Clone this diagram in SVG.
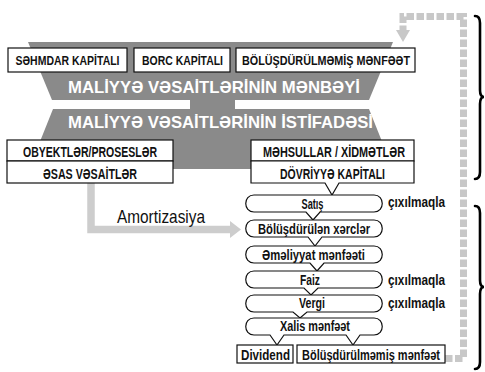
<svg xmlns="http://www.w3.org/2000/svg" width="485" height="372" viewBox="0 0 485 372">
<defs>
<style>
.bx{fill:#fff;stroke:#111;stroke-width:1.2}
.band{fill:#8a8a8a}
.t{font-family:"Liberation Sans","DejaVu Sans",Arial,sans-serif;font-weight:bold;fill:#111;text-anchor:middle}
.cap{font-size:14.5px}
.top{font-size:13.5px}
.pl{font-size:14.5px}
.ttl{font-size:17px;fill:#fff}
.lab{font-family:"Liberation Sans","DejaVu Sans",Arial,sans-serif;fill:#111}
.fb{fill:none;stroke:#c8c8c8;stroke-width:7;stroke-dasharray:7.5 2.5}
.am{fill:none;stroke:#cdcdcd;stroke-width:7.5}
.br{fill:none;stroke:#000;stroke-width:2.6;stroke-linecap:round}
</style>
</defs>
<rect width="485" height="372" fill="#fff"/>

<g id="bands">
<polygon class="band" points="28,42 393,42 369,100 52,100"/>
<rect class="band" x="190" y="99" width="45" height="11"/>
<polygon class="band" points="53,109 369,109 393,169 29,169"/>
<text class="t ttl" x="214" y="92.5" textLength="292" lengthAdjust="spacingAndGlyphs">MALİYYƏ VƏSAİTLƏRİNİN MƏNBƏYİ</text>
<text class="t ttl" x="220.5" y="127.5" textLength="305" lengthAdjust="spacingAndGlyphs">MALİYYƏ VƏSAİTLƏRİNİN İSTİFADƏSİ</text>
</g>

<g id="connectors">
<path class="fb" d="M445,358.5 H463.5 V16.5 H403 V31"/>
<polygon points="396,30 410,30 403,42" fill="#c8c8c8"/>
<path class="am" d="M91,183 V229.5 H231"/>
<polygon points="230,221 241,229.5 230,238" fill="#cdcdcd"/>
</g>

<g id="n-sehmdar">
<rect class="bx" x="8" y="48" width="119" height="24"/>
<text class="t top" x="67.5" y="65" textLength="104" lengthAdjust="spacingAndGlyphs">SƏHMDAR KAPİTALI</text>
</g>
<g id="n-borc">
<rect class="bx" x="134" y="48" width="96" height="24"/>
<text class="t top" x="182.5" y="65" textLength="81" lengthAdjust="spacingAndGlyphs">BORC KAPİTALI</text>
</g>
<g id="n-bolusdurulmemis-top">
<rect class="bx" x="236" y="48" width="179" height="24"/>
<text class="t top" x="326" y="65" textLength="168" lengthAdjust="spacingAndGlyphs">BÖLÜŞDÜRÜLMƏMİŞ MƏNFƏƏT</text>
</g>

<g id="n-obyektler">
<rect class="bx" x="7" y="140" width="166" height="21"/>
<text class="t cap" x="90" y="156.5" textLength="134" lengthAdjust="spacingAndGlyphs">OBYEKTLƏR/PROSESLƏR</text>
</g>
<g id="n-esas">
<rect class="bx" x="7" y="161" width="166" height="22"/>
<text class="t cap" x="90" y="178.5" textLength="94" lengthAdjust="spacingAndGlyphs">ƏSAS VƏSAİTLƏR</text>
</g>
<g id="n-mehsullar">
<rect class="bx" x="251" y="140" width="163" height="21"/>
<text class="t cap" x="334" y="156.5" textLength="142" lengthAdjust="spacingAndGlyphs">MƏHSULLAR / XİDMƏTLƏR</text>
</g>
<g id="n-dovriyye">
<path class="bx" d="M251,161 H414 V183 H339 L332,195 L325,183 H251 Z"/>
<text class="t cap" x="332.5" y="178.5" textLength="105" lengthAdjust="spacingAndGlyphs">DÖVRİYYƏ KAPİTALI</text>
</g>

<g id="n-satis">
<path class="bx" d="M254,195 H374 C385,195 385,212 374,212 H320 L313,220 L306,212 H254 C243,212 243,195 254,195 Z"/>
<text class="t pl" x="312.5" y="208.5" textLength="22" lengthAdjust="spacingAndGlyphs">Satış</text>
</g>
<g id="n-bolusdurulen">
<path class="bx" d="M254,220 H374 C385,220 385,237 374,237 H322 L315,246 L308,237 H254 C243,237 243,220 254,220 Z"/>
<text class="t pl" x="314" y="233.5" textLength="112" lengthAdjust="spacingAndGlyphs">Bölüşdürülən xərclər</text>
</g>
<g id="n-emeliyyat">
<path class="bx" d="M254,246 H374 C385,246 385,263 374,263 H324 L317,271 L310,263 H254 C243,263 243,246 254,246 Z"/>
<text class="t pl" x="313.5" y="259.5" textLength="103" lengthAdjust="spacingAndGlyphs">Əməliyyat mənfəəti</text>
</g>
<g id="n-faiz">
<path class="bx" d="M254,271 H374 C385,271 385,288 374,288 H318 L311,295 L304,288 H254 C243,288 243,271 254,271 Z"/>
<text class="t pl" x="310" y="285" textLength="20" lengthAdjust="spacingAndGlyphs">Faiz</text>
</g>
<g id="n-vergi">
<path class="bx" d="M254,295 H374 C385,295 385,312 374,312 H307 L300,318 L293,312 H254 C243,312 243,295 254,295 Z"/>
<text class="t pl" x="312" y="308" textLength="26" lengthAdjust="spacingAndGlyphs">Vergi</text>
</g>
<g id="n-xalis">
<path class="bx" d="M254,318 H374 C385,318 385,335 374,335 H360 L353,345 L346,335 H284 L277,345 L270,335 H254 C243,335 243,318 254,318 Z"/>
<text class="t pl" x="315" y="331" textLength="70" lengthAdjust="spacingAndGlyphs">Xalis mənfəət</text>
</g>
<g id="n-dividend">
<rect class="bx" x="237" y="345" width="56" height="18"/>
<text class="t pl" x="265.5" y="359.5" textLength="49" lengthAdjust="spacingAndGlyphs">Dividend</text>
</g>
<g id="n-bolusdurulmemis-bottom">
<rect class="bx" x="297" y="345" width="148" height="18"/>
<text class="t pl" x="371" y="359.5" textLength="138" lengthAdjust="spacingAndGlyphs">Bölüşdürülməmiş mənfəət</text>
</g>

<g id="labels">
<text class="lab" x="117" y="222.5" font-size="18.5" textLength="88" lengthAdjust="spacingAndGlyphs">Amortizasiya</text>
<text class="lab" x="388" y="207" font-size="14" font-weight="bold" textLength="57" lengthAdjust="spacingAndGlyphs">çıxılmaqla</text>
<text class="lab" x="388" y="285" font-size="14" font-weight="bold" textLength="57" lengthAdjust="spacingAndGlyphs">çıxılmaqla</text>
<text class="lab" x="388" y="308" font-size="14" font-weight="bold" textLength="57" lengthAdjust="spacingAndGlyphs">çıxılmaqla</text>
</g>

<g id="braces">
<path class="br" d="M475,16 Q480,16 480,23 V90 Q480,97 484,97 Q480,97 480,104 V172 Q480,179 475,179"/>
<path class="br" d="M475,206 Q480,206 480,213 V280 Q480,287 484,287 Q480,287 480,294 V362 Q480,369 475,369"/>
</g>
</svg>
